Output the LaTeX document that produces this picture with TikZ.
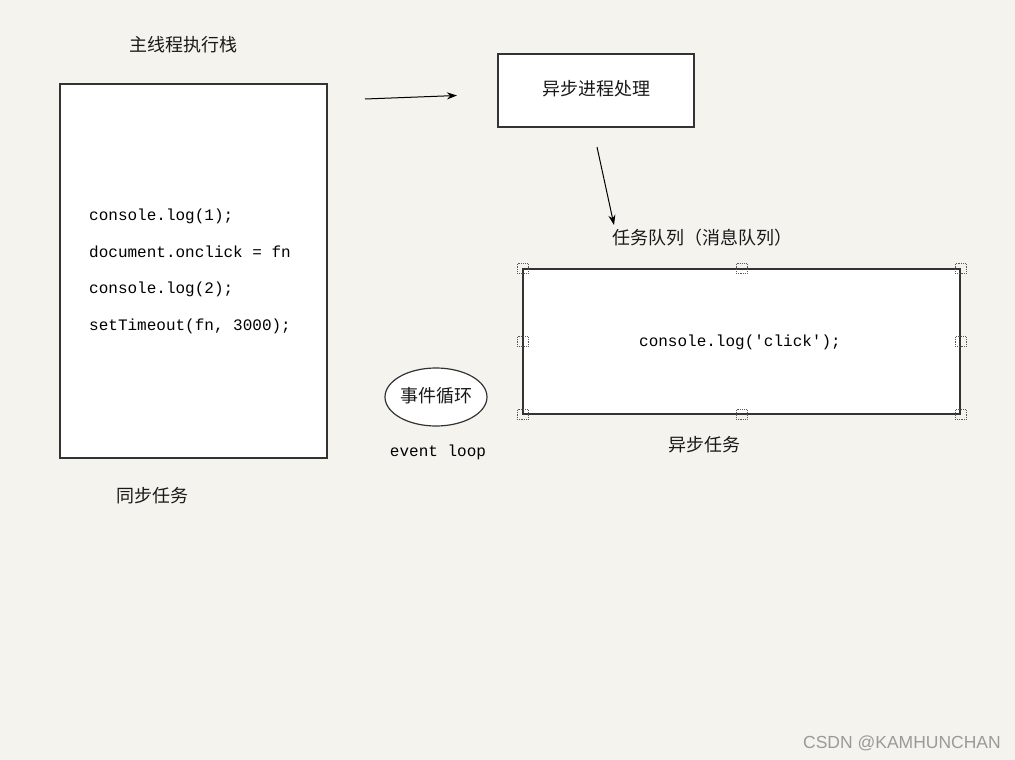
\documentclass[tikz,border=0pt]{standalone}
\usepackage{fontspec}
\setmainfont{Liberation Serif}
\newfontfamily\cjk{Noto Sans CJK SC}
\newfontfamily\codefont{Liberation Mono}
\newfontfamily\wmfont{Liberation Sans}
\usetikzlibrary{shapes.geometric,arrows.meta}
\definecolor{bgc}{HTML}{F5F3EE}
\definecolor{linec}{HTML}{333333}
\definecolor{wmc}{HTML}{9A9A9A}
\begin{document}
\begin{tikzpicture}[x=1pt,y=-1pt,
  cn/.style={font=\cjk\fontsize{18}{21}\selectfont, inner sep=0pt, text=black!90},
  code/.style={font=\codefont\fontsize{16}{18}\selectfont, inner sep=0pt, anchor=west, text=black},
  boxs/.style={draw=linec, line width=1.2pt, fill=white},
  arr/.style={draw=black, line width=1pt, -{Stealth[length=10pt,width=7pt]}},
  handle/.style={draw=black!65, densely dotted, line width=0.8pt, fill=none, minimum width=11pt, minimum height=10pt, inner sep=0pt}
]
\fill[bgc] (0,0) rectangle (1015,760);
\useasboundingbox (0,0) rectangle (1015,760);

% main stack
\node[cn] (title) at (183,45) {主线程执行栈};
\draw[boxs] (60,84) rectangle (327,458);
\node[code] (c1) at (89,216) {console.log(1);};
\node[code] (c2) at (89,252) {document.onclick = fn};
\node[code] (c3) at (89,289) {console.log(2);};
\node[code] (c4) at (89,326) {setTimeout(fn, 3000);};
\node[cn] (sync) at (152,496) {同步任务};

% async process
\node[boxs, minimum width=196pt, minimum height=73pt, inner sep=0pt] (proc) at (596,90.5) {};
\node[cn] (proct) at (596,89) {异步进程处理};
\coordinate (a1s) at (365,99);
\coordinate (a1e) at (457,95.5);
\draw[arr] (a1s) -- (a1e);

\coordinate (a2s) at (597,147);
\coordinate (a2e) at (614,225);
\draw[arr] (a2s) -- (a2e);

% queue
\node[cn] (qtitle) at (702,238) {任务队列（消息队列）};
\node[boxs, minimum width=437pt, minimum height=145pt, inner sep=0pt] (queue) at (741.5,341.5) {};
\node[code, anchor=center] (qt) at (740,342) {console.log('click');};
\foreach \p in {north west, north, north east, west, east, south west, south, south east}
  \node[handle] at (queue.\p) {};
\node[cn] (async) at (704,445) {异步任务};

% event loop
\node[draw=linec, line width=1.2pt, fill=white, ellipse, minimum width=102pt, minimum height=58pt, inner sep=0pt] (loop) at (436,397) {};
\node[cn] (loopt) at (436,396) {事件循环};
\node[code, anchor=center] (el) at (438,452) {event loop};

% watermark
\node[font=\wmfont\fontsize{17.5}{20}\selectfont, text=wmc, anchor=east, inner sep=0pt] (wm) at (1001,743) {CSDN @KAMHUNCHAN};
\end{tikzpicture}
\end{document}
